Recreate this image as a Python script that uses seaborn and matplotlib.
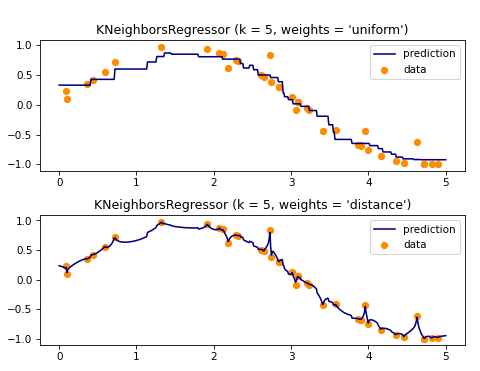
import numpy as np
import pandas as pd
import matplotlib
matplotlib.use("Agg")
import matplotlib.pyplot as plt
import seaborn as sns

# data points
x_data = [0.094, 0.101, 0.355, 0.436, 0.591, 0.717, 1.323, 1.917, 2.073, 2.118,
          2.188, 2.281, 2.307, 2.609, 2.644, 2.724, 2.744, 2.840, 2.842, 3.014,
          3.060, 3.085, 3.088, 3.200, 3.229, 3.409, 3.576, 3.871, 3.891, 3.903,
          3.959, 3.996, 4.163, 4.350, 4.459, 4.628, 4.719, 4.723, 4.818, 4.893]
y_data = [0.234, 0.101, 0.348, 0.422, 0.557, 0.720, 0.970, 0.941, 0.877, 0.854,
          0.618, 0.758, 0.741, 0.508, 0.477, 0.845, 0.387, 0.297, 0.295, 0.127,
          -0.085, 0.057, 0.053, -0.058, -0.087, -0.435, -0.421, -0.666, -0.681, -0.690,
          -0.440, -0.754, -0.852, -0.935, -0.968, -0.625, -1.000, -1.000, -0.994, -0.984]

n_neighbors = 5
weight_modes = ['uniform', 'distance']

X = np.array(x_data)
Y = np.array(y_data)
T = np.linspace(0, 5, 500)


# simple k-nearest-neighbours regression on the points above
def knn_predict(t_grid, weights):
    out = []
    for t in t_grid:
        d = np.abs(X - t)
        idx = np.argsort(d, kind='stable')[:n_neighbors]
        if weights == 'uniform':
            out.append(Y[idx].mean())
        else:
            dd = d[idx]
            if np.any(dd == 0):
                out.append(Y[idx][dd == 0].mean())
            else:
                w = 1.0 / dd
                out.append(np.sum(w * Y[idx]) / np.sum(w))
    return np.array(out)


data = pd.DataFrame({'x': x_data, 'y': y_data})

fig, axes = plt.subplots(2, 1, figsize=(6.4, 4.947), dpi=75)
axes[0].set_position([0.083, 0.539, 0.886, 0.353])
axes[1].set_position([0.083, 0.070, 0.886, 0.350])

for ax, weights in zip(axes, weight_modes):
    pred = pd.DataFrame({'t': T, 'pred': knn_predict(T, weights)})
    sns.lineplot(data=pred, x='t', y='pred', color='navy', label='prediction', ax=ax)
    sns.scatterplot(data=data, x='x', y='y', color='darkorange', s=49,
                    linewidth=0, label='data', ax=ax)
    ax.set_title("KNeighborsRegressor (k = %i, weights = '%s')" % (n_neighbors, weights))
    ax.set_xlabel('')
    ax.set_ylabel('')
    ax.set_ylim(-1.11, 1.09)
    ax.legend(loc='upper right')

fig.savefig('out.png', dpi=75)
